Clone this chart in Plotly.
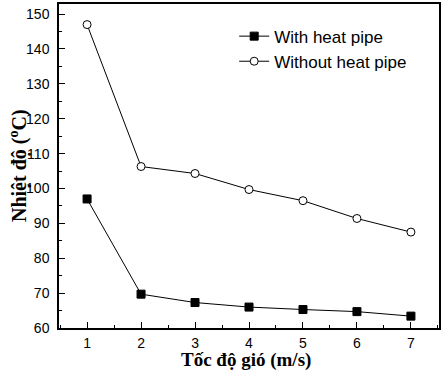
import plotly.graph_objects as go

wind_speed = [1, 2, 3, 4, 5, 6, 7]
with_heat_pipe = [97.0, 69.7, 67.3, 66.0, 65.3, 64.7, 63.4]
without_heat_pipe = [147.0, 106.3, 104.3, 99.7, 96.5, 91.4, 87.5]
x_ticks = [1, 2, 3, 4, 5, 6, 7]
y_ticks = [60, 70, 80, 90, 100, 110, 120, 130, 140, 150]

fig = go.Figure()
fig.add_trace(go.Scatter(
    x=wind_speed, y=with_heat_pipe, mode="lines+markers", name="With heat pipe",
    line=dict(color="black", width=1),
    marker=dict(symbol="square", size=8, color="black", line=dict(color="black", width=1)),
))
fig.add_trace(go.Scatter(
    x=wind_speed, y=without_heat_pipe, mode="lines+markers", name="Without heat pipe",
    line=dict(color="black", width=1),
    marker=dict(symbol="circle", size=8, color="white", line=dict(color="black", width=1)),
))

axis_common = dict(
    showline=True, linecolor="black", linewidth=1.5, mirror=True,
    ticks="inside", ticklen=6, tickwidth=1.2, tickcolor="black",
    showgrid=False, zeroline=False, automargin=False,
    tickfont=dict(family="Liberation Sans, Arial", size=14, color="black"),
)

fig.update_xaxes(
    range=[0.48, 7.52], tickvals=x_ticks, ticklabelstandoff=1,
    minor=dict(ticks="inside", ticklen=3, tickcolor="black", dtick=0.5, tick0=0.5, showgrid=False),
    **axis_common,
)
fig.update_yaxes(
    range=[60, 152.9], tickvals=y_ticks, ticklabelstandoff=5,
    minor=dict(ticks="inside", ticklen=3, tickcolor="black", dtick=5, tick0=0, showgrid=False),
    **axis_common,
)

fig.add_annotation(
    text="<b>Tốc độ gió (m/s)</b>", xref="paper", yref="paper", x=0.491, y=0,
    xanchor="center", yanchor="middle", yshift=-32, showarrow=False,
    font=dict(family="Liberation Serif, Times New Roman", size=19, color="black"),
)
fig.add_annotation(
    text="<b>Nhiệt độ (<sup>o</sup>C)</b>", xref="paper", yref="paper", x=0, y=0.5,
    xanchor="center", yanchor="middle", xshift=-41, textangle=-90, showarrow=False,
    font=dict(family="Liberation Serif, Times New Roman", size=20, color="black"),
)

fig.update_layout(
    width=444, height=374,
    margin=dict(l=59, r=5, t=4, b=46),
    plot_bgcolor="white", paper_bgcolor="white",
    legend=dict(x=0.461, y=0.955, xanchor="left", yanchor="top",
                font=dict(family="Liberation Sans, Arial", size=17, color="black"),
                bgcolor="rgba(0,0,0,0)", tracegroupgap=0),
    showlegend=True,
)

fig.write_html("out.html", config={"displayModeBar": False},
               post_script="document.body.style.margin='0';")
